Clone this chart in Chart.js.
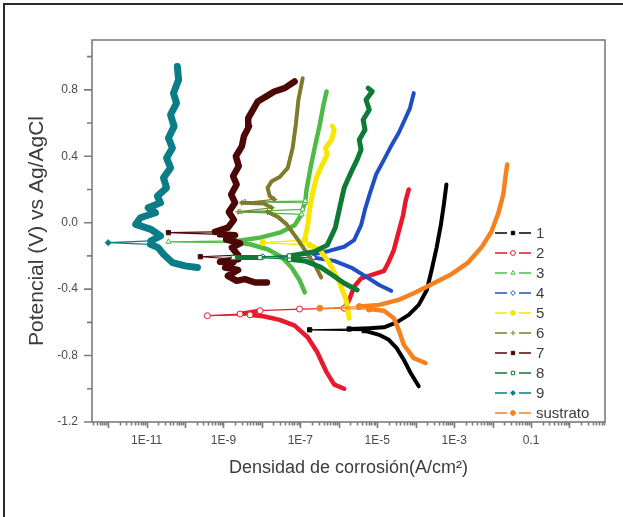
<!DOCTYPE html>
<html>
<head>
<meta charset="utf-8">
<script src="https://cdn.jsdelivr.net/npm/chart.js@4/dist/chart.umd.min.js"></script>
<style>
  html, body { margin: 0; padding: 0; background: #fff; }
  canvas { display: block; }
</style>
</head>
<body>
<canvas id="tafelChart" width="623" height="517"></canvas>
<script>
// Axis ticks and labels
const xTicks = [1e-11, 1e-9, 1e-7, 1e-5, 1e-3, 0.1];
const xTickLabels = ['1E-11', '1E-9', '1E-7', '1E-5', '1E-3', '0.1'];
const yTicks = [-1.2, -0.8, -0.4, 0.0, 0.4, 0.8];
const yTickLabels = ['-1.2', '-0.8', '-0.4', '0.0', '0.4', '0.8'];

const seriesNames = ['1', '2', '3', '4', '5', '6', '7', '8', '9', 'sustrato'];

// Polarization curves: current density (A/cm2) and potential (V vs Ag/AgCl)
const current1 = [1.2e-4, 7.4e-5, 4.9e-5, 3.2e-5, 2.0e-5, 1.12e-5, 4.6e-6, 1.74e-7, 1.86e-6, 6.2e-6, 1.5e-5, 3.2e-5, 6.6e-5, 1.2e-4, 1.95e-4, 2.6e-4, 3.5e-4, 4.5e-4, 5.4e-4, 6.3e-4];
const potential1 = [-0.985, -0.905, -0.825, -0.755, -0.705, -0.675, -0.65, -0.645, -0.64, -0.635, -0.63, -0.60, -0.555, -0.495, -0.405, -0.285, -0.15, -0.015, 0.11, 0.23];

const current2 = [1.38e-6, 7.6e-7, 4.8e-7, 2.75e-7, 1.55e-7, 7.1e-8, 2.9e-8, 1.17e-8, 4.9e-9, 3.8e-10, 2.7e-9, 8.9e-9, 9.5e-8, 1.38e-6, 1.86e-6, 2.5e-6, 3.8e-6, 8.3e-6, 1.5e-5, 2.0e-5, 2.7e-5, 3.6e-5, 4.7e-5, 5.5e-5, 6.6e-5];
const potential2 = [-1.0, -0.975, -0.90, -0.78, -0.69, -0.62, -0.585, -0.565, -0.555, -0.56, -0.55, -0.53, -0.52, -0.515, -0.465, -0.385, -0.335, -0.31, -0.29, -0.235, -0.165, -0.055, 0.045, 0.135, 0.20];

const current3 = [1.3e-7, 9.5e-8, 5.9e-8, 3.2e-8, 1.4e-8, 4.9e-9, 2.2e-9, 3.7e-11, 2.2e-9, 8.9e-9, 2.9e-8, 7.1e-8, 1.07e-7, 2.7e-9, 1.15e-7, 1.3e-7, 3.6e-9, 1.35e-7, 1.45e-7, 1.8e-7, 2.45e-7, 3.2e-7, 4.0e-7, 4.8e-7];
const potential3 = [-0.42, -0.345, -0.27, -0.205, -0.16, -0.13, -0.12, -0.115, -0.11, -0.09, -0.06, -0.015, 0.05, 0.065, 0.08, 0.12, 0.125, 0.13, 0.20, 0.32, 0.47, 0.59, 0.71, 0.79];

const current4 = [2.3e-5, 1.12e-5, 5.1e-6, 2.1e-6, 7.6e-7, 2.1e-7, 1.05e-8, 1.74e-7, 5.6e-7, 1.38e-6, 2.5e-6, 3.8e-6, 4.8e-6, 6.5e-6, 9.3e-6, 1.5e-5, 2.4e-5, 3.6e-5, 5.2e-5, 7.1e-5, 8.9e-5];
const potential4 = [-0.41, -0.375, -0.325, -0.27, -0.23, -0.21, -0.205, -0.195, -0.17, -0.145, -0.105, -0.015, 0.08, 0.18, 0.29, 0.38, 0.47, 0.54, 0.62, 0.69, 0.78];

const current5 = [1.86e-6, 1.55e-6, 1.02e-6, 5.6e-7, 3.2e-7, 1.74e-7, 1.05e-8, 1.3e-7, 1.55e-7, 1.74e-7, 2.1e-7, 2.6e-7, 3.7e-7, 5.0e-7, 4.5e-7, 6.5e-7, 7.6e-7, 6.8e-7];
const potential5 = [-0.575, -0.465, -0.355, -0.24, -0.165, -0.135, -0.12, -0.105, -0.015, 0.08, 0.18, 0.27, 0.35, 0.41, 0.45, 0.50, 0.56, 0.58];

const current6 = [3.5e-7, 2.45e-7, 1.45e-7, 7.9e-8, 4.4e-8, 2.6e-8, 1.4e-8, 2.4e-9, 1.8e-8, 1.12e-8, 3.0e-9, 2.1e-8, 1.6e-8, 1.4e-8, 1.8e-8, 2.9e-8, 4.7e-8, 6.3e-8, 7.6e-8, 8.9e-8, 1.15e-7];
const potential6 = [-0.33, -0.26, -0.18, -0.09, -0.01, 0.035, 0.065, 0.065, 0.09, 0.115, 0.12, 0.14, 0.16, 0.21, 0.25, 0.275, 0.33, 0.45, 0.59, 0.74, 0.87];

const current7 = [1.35e-8, 6.6e-9, 3.6e-9, 2.2e-9, 1.3e-9, 2.4e-9, 1.1e-9, 1.8e-9, 8.1e-10, 2.4e-9, 2.5e-10, 2.4e-9, 1.66e-9, 2.7e-9, 1.17e-9, 2.0e-9, 8.1e-10, 3.7e-11, 6.0e-10, 1.3e-9, 1.87e-9, 1.38e-9, 2.0e-9, 1.58e-9, 2.2e-9, 1.78e-9, 2.5e-9, 2.1e-9, 3.0e-9, 3.4e-9, 4.6e-9, 4.4e-9, 6.2e-9, 7.8e-9, 1.4e-8, 2.1e-8, 3.9e-8, 7.1e-8];
const potential7 = [-0.36, -0.36, -0.34, -0.35, -0.32, -0.285, -0.27, -0.24, -0.235, -0.22, -0.205, -0.195, -0.15, -0.125, -0.10, -0.075, -0.07, -0.06, -0.055, -0.03, 0.017, 0.065, 0.12, 0.17, 0.23, 0.28, 0.34, 0.40, 0.46, 0.52, 0.58, 0.63, 0.69, 0.73, 0.765, 0.79, 0.81, 0.85];

const current8 = [3.0e-6, 1.38e-6, 6.8e-7, 3.2e-7, 1.3e-7, 5.2e-8, 8.9e-9, 1.8e-9, 5.2e-8, 2.3e-7, 5.0e-7, 8.1e-7, 1.1e-6, 1.38e-6, 2.1e-6, 3.0e-6, 3.8e-6, 3.4e-6, 4.8e-6, 4.3e-6, 6.2e-6, 5.1e-6, 7.4e-6, 5.8e-6];
const potential8 = [-0.405, -0.365, -0.315, -0.265, -0.23, -0.22, -0.21, -0.21, -0.20, -0.175, -0.135, -0.03, 0.11, 0.21, 0.305, 0.38, 0.44, 0.50, 0.56, 0.62, 0.68, 0.74, 0.79, 0.81];

const current9 = [2.1e-10, 1.0e-10, 4.7e-11, 2.75e-11, 2.0e-11, 1.26e-11, 1.0e-12, 1.3e-11, 2.3e-11, 1.3e-11, 5.2e-12, 6.9e-12, 1.7e-11, 1.1e-11, 2.3e-11, 1.9e-11, 3.3e-11, 2.75e-11, 4.2e-11, 3.3e-11, 4.7e-11, 3.7e-11, 5.2e-11, 4.2e-11, 6.0e-11, 5.0e-11, 6.8e-11, 6.3e-11];
const potential9 = [-0.27, -0.26, -0.24, -0.19, -0.15, -0.13, -0.12, -0.11, -0.08, -0.04, -0.01, 0.03, 0.06, 0.09, 0.12, 0.16, 0.21, 0.27, 0.33, 0.39, 0.45, 0.51, 0.58, 0.65, 0.72, 0.78, 0.86, 0.94];

const currentSub = [1.8e-4, 8.9e-5, 4.9e-5, 3.6e-5, 2.7e-5, 1.5e-5, 6.2e-6, 3.2e-7, 3.4e-6, 1.12e-5, 3.6e-5, 8.9e-5, 2.6e-4, 8.5e-4, 2.3e-3, 5.1e-3, 9.3e-3, 1.4e-2, 1.9e-2, 2.2e-2, 2.4e-2];
const potentialSub = [-0.845, -0.815, -0.735, -0.645, -0.575, -0.53, -0.52, -0.515, -0.505, -0.495, -0.465, -0.425, -0.37, -0.31, -0.24, -0.15, -0.055, 0.055, 0.17, 0.29, 0.35];

const currents = [current1, current2, current3, current4, current5, current6, current7, current8, current9, currentSub];
const potentials = [potential1, potential2, potential3, potential4, potential5, potential6, potential7, potential8, potential9, potentialSub];

// Look of each curve
const colors = ['#000000', '#e8192c', '#4fba45', '#1f4fc2', '#f7e600', '#7c7c2c', '#4e0707', '#0d7a36', '#0a7d86', '#f5821f'];
const markers = ['rect', 'circle', 'triangle', 'rectRot', 'circle', 'cross', 'rect', 'rect', 'rectRot', 'circle'];
const openMarker = [false, true, true, true, false, false, false, true, false, false];
const lineWidths = [4, 4.5, 4.5, 4, 5, 4, 6.5, 5, 7, 4.5];

const FONT = '"Liberation Sans", Arial, sans-serif';
Chart.defaults.font.family = FONT;

// A segment is a "jump" when the current changes a lot at almost the same potential
function isJump(data, i, j) {
  const a = data[i], b = data[j];
  if (!a || !b) return false;
  return Math.abs(Math.log10(a.x / b.x)) > 0.7 && Math.abs(a.y - b.y) < 0.03;
}

const datasets = seriesNames.map((name, k) => {
  const data = currents[k].map((c, i) => ({ x: c, y: potentials[k][i] }));
  return {
    label: name,
    data: data,
    showLine: true,
    borderColor: colors[k],
    backgroundColor: colors[k],
    borderWidth: lineWidths[k],
    borderCapStyle: 'round',
    borderJoinStyle: 'round',
    pointStyle: markers[k],
    pointBackgroundColor: openMarker[k] ? '#ffffff' : colors[k],
    pointBorderColor: colors[k],
    pointBorderWidth: 1,
    pointRadius: ctx => (isJump(data, ctx.dataIndex, ctx.dataIndex - 1) || isJump(data, ctx.dataIndex, ctx.dataIndex + 1)) ? 3 : 0,
    segment: {
      borderWidth: ctx => isJump(data, ctx.p0DataIndex, ctx.p1DataIndex) ? 1.2 : lineWidths[k]
    },
    order: seriesNames.length - k
  };
});

// Plot frame, outward ticks and the page border
const frameTicks = {
  id: 'frameTicks',
  beforeDraw(chart) {
    const ctx = chart.ctx;
    ctx.save();
    ctx.strokeStyle = '#2a2a2a';
    ctx.lineWidth = 2;
    ctx.beginPath();
    ctx.moveTo(4, chart.height);
    ctx.lineTo(4, 4);
    ctx.lineTo(chart.width, 4);
    ctx.stroke();
    ctx.restore();
  },
  afterDraw(chart) {
    const { ctx, chartArea: a, scales: { x, y } } = chart;
    ctx.save();
    ctx.strokeStyle = '#7c7c7c';
    ctx.lineWidth = 1.6;
    ctx.strokeRect(a.left, a.top, a.right - a.left, a.bottom - a.top);
    ctx.beginPath();
    for (let e = -13; e <= 1; e++) {
      for (let m = 1; m <= 9; m++) {
        const v = m * Math.pow(10, e);
        if (v < x.min || v > x.max) continue;
        const px = Math.round(x.getPixelForValue(v)) + 0.5;
        ctx.moveTo(px, a.bottom);
        ctx.lineTo(px, a.bottom + (m === 1 ? 6 : 3.5));
      }
    }
    for (let k = -6; k <= 5; k++) {
      const v = k * 0.2;
      const py = y.getPixelForValue(v);
      const major = k % 2 === 0;
      ctx.moveTo(a.left, py);
      ctx.lineTo(a.left - (major ? 8 : 5), py);
    }
    ctx.stroke();
    ctx.restore();
  }
};

// Legend inside the lower right corner of the plot
const legendBox = {
  id: 'legendBox',
  afterDatasetsDraw(chart) {
    const ctx = chart.ctx;
    ctx.save();
    ctx.font = '15px ' + FONT;
    ctx.textBaseline = 'middle';
    ctx.textAlign = 'left';
    chart.data.datasets.forEach((ds, i) => {
      const yy = 233 + i * 20;
      ctx.strokeStyle = ds.borderColor;
      ctx.lineWidth = 1.3;
      ctx.beginPath();
      ctx.moveTo(495, yy);
      ctx.lineTo(507, yy);
      ctx.moveTo(519, yy);
      ctx.lineTo(531, yy);
      ctx.stroke();
      ctx.fillStyle = ds.pointBackgroundColor;
      ctx.lineWidth = 1;
      Chart.helpers.drawPoint(ctx, { pointStyle: ds.pointStyle, radius: 2.4, borderWidth: 1, rotation: 0 }, 513, yy);
      ctx.fillStyle = '#3c3c3c';
      ctx.fillText(ds.label, 536, yy + 1);
    });
    ctx.restore();
  }
};

new Chart(document.getElementById('tafelChart'), {
  type: 'scatter',
  data: { datasets: datasets },
  options: {
    responsive: false,
    animation: false,
    devicePixelRatio: 1,
    layout: { padding: { top: 40, right: 18, left: 0, bottom: 0 } },
    plugins: {
      legend: { display: false },
      tooltip: { enabled: false }
    },
    scales: {
      x: {
        type: 'logarithmic',
        min: 3.8e-13,
        max: 8.4,
        grid: { display: false, drawTicks: false },
        border: { display: false },
        afterBuildTicks: scale => { scale.ticks = xTicks.map(v => ({ value: v })); },
        afterFit: scale => { scale.height = 95; },
        ticks: {
          padding: 11,
          maxRotation: 0,
          autoSkip: false,
          color: '#4a4a4a',
          font: { size: 12 },
          callback: (value, index) => xTickLabels[index]
        },
        title: {
          display: true,
          text: 'Densidad de corrosión(A/cm²)',
          color: '#3c3c3c',
          font: { size: 18 },
          padding: { top: 0, bottom: 38 }
        }
      },
      y: {
        type: 'linear',
        min: -1.2,
        max: 1.1,
        grid: { display: false, drawTicks: false },
        border: { display: false },
        afterBuildTicks: scale => { scale.ticks = yTicks.map(v => ({ value: v })); },
        afterFit: scale => { scale.width = 92; },
        ticks: {
          padding: 14,
          color: '#4a4a4a',
          font: { size: 12 },
          callback: (value, index) => yTickLabels[index]
        },
        title: {
          display: true,
          text: 'Potencial (V) vs Ag/AgCl',
          color: '#3c3c3c',
          font: { size: 21 },
          padding: { top: 25, bottom: 0 }
        }
      }
    }
  },
  plugins: [frameTicks, legendBox]
});
</script>
</body>
</html>
